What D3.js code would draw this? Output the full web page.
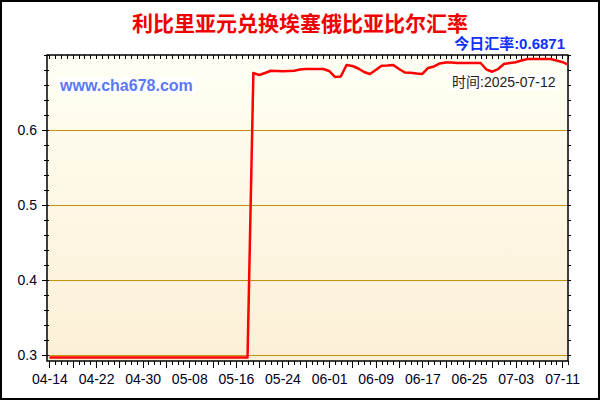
<!DOCTYPE html>
<html>
<head>
<meta charset="utf-8">
<script src="https://cdn.jsdelivr.net/npm/d3@7"></script>
<style>
html, body { margin: 0; padding: 0; background: #fff; }
svg { display: block; }
</style>
</head>
<body>
<div id="container"></div>
<script>
const title = '利比里亚元兑换埃塞俄比亚比尔汇率';
const todayLabel = '今日汇率:0.6871';
const dateLabel = '时间:2025-07-12';
const siteLabel = 'www.cha678.com';
const startDate = '2025-04-14';
// one value per day, 04-14 .. 07-12
const rates = [
    0.2966, 0.2966, 0.2966, 0.2966, 0.2966, 0.2966, 0.2966, 0.2966, 0.2966, 0.2966,
    0.2966, 0.2966, 0.2966, 0.2966, 0.2966, 0.2966, 0.2966, 0.2966, 0.2966, 0.2966,
    0.2966, 0.2966, 0.2966, 0.2966, 0.2966, 0.2966, 0.2966, 0.2966, 0.2966, 0.2966,
    0.2966, 0.2966, 0.2966, 0.2966, 0.2966,
    0.6760, 0.6733, 0.6760, 0.6790, 0.6787, 0.6783, 0.6787, 0.6790, 0.6807, 0.6813,
    0.6813, 0.6813, 0.6813, 0.6787, 0.6707, 0.6713, 0.6867, 0.6853, 0.6820, 0.6773,
    0.6747, 0.6800, 0.6857, 0.6860, 0.6867, 0.6813, 0.6767, 0.6764, 0.6753, 0.6747,
    0.6827, 0.6847, 0.6887, 0.6900, 0.6900, 0.6893, 0.6893, 0.6893, 0.6893, 0.6893,
    0.6807, 0.6777, 0.6813, 0.6880, 0.6893, 0.6903, 0.6927, 0.6947, 0.6947, 0.6947,
    0.6947, 0.6947, 0.6927, 0.6907, 0.6871
];
const xTickLabels = ['04-14', '04-22', '04-30', '05-08', '05-16', '05-24',
    '06-01', '06-09', '06-17', '06-25', '07-03', '07-11'];
const yTicks = [0.3, 0.4, 0.5, 0.6];

const W = 600, H = 400;
const plot = { left: 47, right: 568, top: 55, bottom: 361 };
const fontStack = '"Liberation Sans", Arial, "Noto Sans CJK SC", sans-serif';

const parse = d3.timeParse('%Y-%m-%d');
const start = parse(startDate);
const data = rates.map((v, i) => ({ date: d3.timeDay.offset(start, i), value: v }));
const end = data[data.length - 1].date;

const x = d3.scaleTime()
    .domain([d3.timeHour.offset(start, -10), end])
    .range([plot.left, plot.right]);
const y = d3.scaleLinear()
    .domain([0.292, 0.7])
    .range([plot.bottom, plot.top]);

const svg = d3.select('#container')
    .append('svg')
    .attr('width', W)
    .attr('height', H)
    .style('font-family', fontStack);

const defs = svg.append('defs');
const grad = defs.append('linearGradient')
    .attr('id', 'plotBg')
    .attr('x1', 0).attr('y1', 0).attr('x2', 0).attr('y2', 1);
grad.append('stop').attr('offset', '0%').attr('stop-color', '#fffff4');
grad.append('stop').attr('offset', '100%').attr('stop-color', '#fcefd6');

// outer frame
svg.append('rect')
    .attr('x', 1).attr('y', 1)
    .attr('width', W - 2).attr('height', H - 2)
    .attr('fill', '#fff')
    .attr('stroke', '#000')
    .attr('stroke-width', 2);

// plot background
svg.append('rect')
    .attr('x', plot.left).attr('y', plot.top)
    .attr('width', plot.right - plot.left)
    .attr('height', plot.bottom - plot.top)
    .attr('fill', 'url(#plotBg)');

// grid lines
svg.append('g')
    .selectAll('line')
    .data(yTicks)
    .join('line')
    .attr('x1', plot.left).attr('x2', plot.right)
    .attr('y1', d => y(d)).attr('y2', d => y(d))
    .attr('stroke', '#c4920a')
    .attr('stroke-width', 1)
    .attr('shape-rendering', 'crispEdges');

// axes
const allDays = d3.timeDay.range(start, d3.timeDay.offset(end, 1));
const majorDays = allDays.filter((d, i) => i % 4 === 0);
const labelSet = new Set(xTickLabels);
const fmt = d3.timeFormat('%m-%d');
const yMinor = d3.range(0.3, 0.7001, 0.02);

function styleAxis(g) {
    g.select('.domain').remove();
    g.selectAll('line')
        .attr('stroke', '#000')
        .attr('shape-rendering', 'crispEdges');
    g.selectAll('text')
        .attr('fill', '#000022')
        .style('font-size', '14px')
        .style('font-family', fontStack);
}

svg.append('g')
    .attr('transform', `translate(0,${plot.bottom})`)
    .call(d3.axisBottom(x).tickValues(allDays).tickSize(4).tickFormat(''))
    .call(styleAxis);
svg.append('g')
    .attr('transform', `translate(0,${plot.bottom})`)
    .call(d3.axisBottom(x).tickValues(majorDays).tickSize(7).tickPadding(6)
        .tickFormat(d => labelSet.has(fmt(d)) ? fmt(d) : ''))
    .call(styleAxis);

svg.append('g')
    .attr('transform', `translate(0,${plot.top})`)
    .call(d3.axisTop(x).tickValues(allDays).tickSize(-4).tickFormat(''))
    .call(styleAxis);

svg.append('g')
    .attr('transform', `translate(${plot.left},0)`)
    .call(d3.axisLeft(y).tickValues(yMinor).tickSize(3).tickFormat(''))
    .call(styleAxis);
svg.append('g')
    .attr('transform', `translate(${plot.left - 1},0)`)
    .call(d3.axisLeft(y).tickValues(yMinor).tickSize(-3).tickFormat(''))
    .call(styleAxis);
svg.append('g')
    .attr('transform', `translate(${plot.left},0)`)
    .call(d3.axisLeft(y).tickValues(yTicks).tickSize(5).tickPadding(5).tickFormat(d3.format('.1f')))
    .call(styleAxis);

svg.append('g')
    .attr('transform', `translate(${plot.right},0)`)
    .call(d3.axisRight(y).tickValues(yMinor).tickSize(3).tickFormat(''))
    .call(styleAxis);

// plot frame
svg.append('rect')
    .attr('x', plot.left).attr('y', plot.top)
    .attr('width', plot.right - plot.left)
    .attr('height', plot.bottom - plot.top)
    .attr('fill', 'none')
    .attr('stroke', '#000')
    .attr('stroke-width', 1.5);

// labels with white boxes
function boxedText(tx, ty, text, size, weight, color) {
    const g = svg.append('g');
    const rect = g.append('rect').attr('fill', '#fff');
    const t = g.append('text')
        .attr('x', tx).attr('y', ty)
        .text(text)
        .style('font-size', size + 'px')
        .style('font-weight', weight)
        .attr('fill', color);
    const b = t.node().getBBox();
    rect.attr('x', b.x - 2).attr('y', b.y).attr('width', b.width + 4).attr('height', b.height);
}
boxedText(60, 91, siteLabel, 16, 'bold', '#5b78f5');
boxedText(452, 87, dateLabel, 14, 'normal', '#222');

// rate line
const line = d3.line()
    .x(d => x(d.date))
    .y(d => y(d.value));
svg.append('path')
    .datum(data)
    .attr('d', line)
    .attr('fill', 'none')
    .attr('stroke', '#ff0000')
    .attr('stroke-width', 2.5)
    .attr('stroke-linejoin', 'round');

// titles
svg.append('text')
    .attr('x', 300).attr('y', 31)
    .attr('text-anchor', 'middle')
    .text(title)
    .style('font-size', '21px')
    .style('font-weight', 'bold')
    .attr('fill', '#f00000');

svg.append('text')
    .attr('x', 565).attr('y', 49)
    .attr('text-anchor', 'end')
    .text(todayLabel)
    .style('font-size', '15px')
    .style('font-weight', 'bold')
    .attr('fill', '#1030ff');
</script>
</body>
</html>
